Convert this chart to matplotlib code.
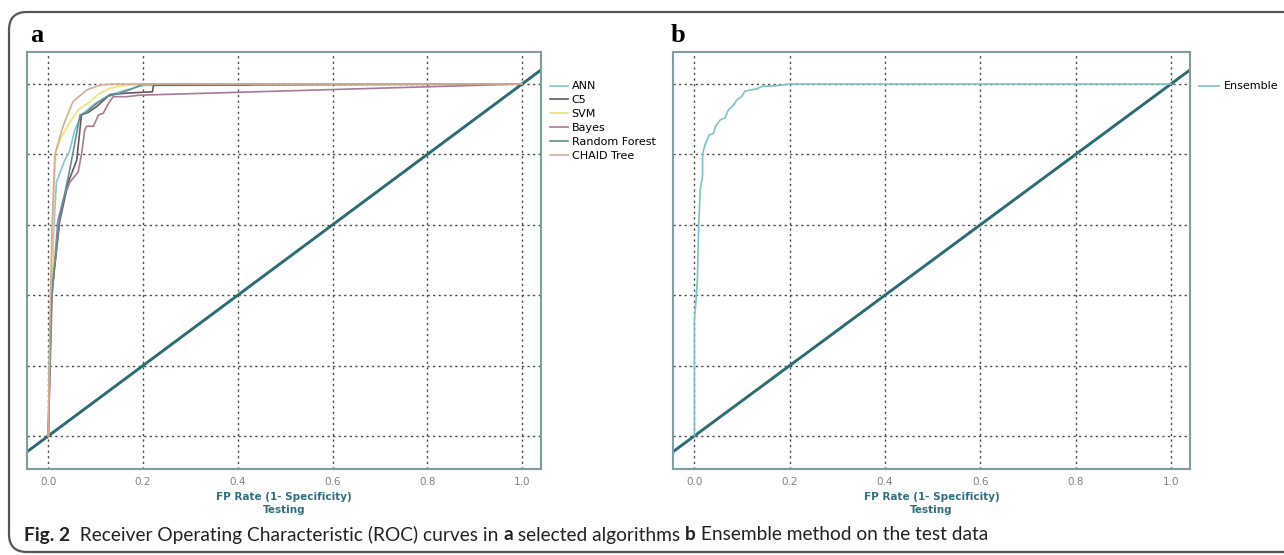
import numpy as np
import matplotlib.pyplot as plt
from matplotlib.patches import FancyBboxPatch

# ROC curves (FP rate, TP rate)
ann_fpr = [0, 0.002, 0.006, 0.012, 0.017, 0.024, 0.035, 0.045, 0.056, 0.07, 0.095, 0.123, 0.151, 0.193, 0.2, 0.425, 0.43, 1.0]
ann_tpr = [0, 0.2, 0.4, 0.6, 0.72, 0.746, 0.784, 0.81, 0.87, 0.912, 0.941, 0.964, 0.978, 0.994, 0.996, 0.997, 1.0, 1.0]

c5_fpr = [0, 0.003, 0.007, 0.015, 0.024, 0.042, 0.06, 0.07, 0.085, 0.102, 0.13, 0.165, 0.22, 0.222, 1.0]
c5_tpr = [0, 0.2, 0.4, 0.5, 0.61, 0.72, 0.784, 0.912, 0.92, 0.936, 0.97, 0.974, 0.978, 0.997, 1.0]

svm_fpr = [0, 0.004, 0.008, 0.012, 0.016, 0.028, 0.045, 0.063, 0.088, 0.109, 0.13, 0.151, 0.2, 1.0]
svm_tpr = [0, 0.3, 0.5, 0.7, 0.81, 0.85, 0.89, 0.926, 0.95, 0.974, 0.988, 0.994, 1.0, 1.0]

bayes_fpr = [0, 0.004, 0.008, 0.02, 0.031, 0.045, 0.063, 0.07, 0.077, 0.081, 0.095, 0.106, 0.116, 0.127, 0.137, 0.165, 0.19, 0.21, 1.0]
bayes_tpr = [0, 0.2, 0.4, 0.61, 0.67, 0.72, 0.75, 0.8, 0.87, 0.88, 0.88, 0.912, 0.917, 0.945, 0.964, 0.964, 0.968, 0.969, 1.0]

rf_fpr = [0, 0.003, 0.007, 0.024, 0.045, 0.067, 0.081, 0.102, 0.123, 0.151, 0.18, 0.2, 1.0]
rf_tpr = [0, 0.2, 0.4, 0.62, 0.755, 0.912, 0.92, 0.945, 0.964, 0.974, 0.988, 1.0, 1.0]

chaid_fpr = [0, 0.003, 0.008, 0.014, 0.031, 0.052, 0.081, 0.109, 0.137, 1.0]
chaid_tpr = [0, 0.3, 0.6, 0.8, 0.88, 0.95, 0.983, 0.997, 1.0, 1.0]

ens_fpr = [0, 0.0, 0.003, 0.006, 0.009, 0.012, 0.017, 0.017, 0.022, 0.031, 0.04, 0.044, 0.054, 0.064, 0.071, 0.082,
           0.089, 0.099, 0.106, 0.13, 0.141, 0.169, 0.183, 0.2, 1.0]
ens_tpr = [0, 0.33, 0.38, 0.44, 0.6, 0.7, 0.74, 0.8, 0.827, 0.855, 0.86, 0.879, 0.898, 0.903, 0.926, 0.94,
           0.955, 0.964, 0.98, 0.986, 0.993, 0.995, 0.997, 1.0, 1.0]

models = ['ANN', 'C5', 'SVM', 'Bayes', 'Random Forest', 'CHAID Tree']
fprs = [ann_fpr, c5_fpr, svm_fpr, bayes_fpr, rf_fpr, chaid_fpr]
tprs = [ann_tpr, c5_tpr, svm_tpr, bayes_tpr, rf_tpr, chaid_tpr]
colors = ['#86c6d2', '#6b5660', '#eee27a', '#a77b95', '#5e9098', '#d8ac92']

xticks = [0.0, 0.2, 0.4, 0.6, 0.8, 1.0]
yticks = [0.0, 0.2, 0.4, 0.6, 0.8, 1.0]

W, H = 1284, 555
fig = plt.figure(figsize=(W / 100, H / 100), dpi=100)

# outer rounded frame, runs off the right edge
frame = FancyBboxPatch((9 / W, 3 / H), 1.2, (552 - 12) / H, boxstyle='round,pad=0,rounding_size=0.014',
                       transform=fig.transFigure, fill=False, edgecolor='#555555', lw=1.6, mutation_aspect=W / H)
fig.patches.append(frame)


def px_axes(x0, x1, y0, y1):
    return fig.add_axes([x0 / W, 1 - y1 / H, (x1 - x0) / W, (y1 - y0) / H])


def style(ax):
    ax.set_xlim(-0.045, 1.04)
    ax.set_ylim(-0.094, 1.091)
    ax.set_xticks(xticks)
    ax.set_xticklabels(['%.1f' % t for t in xticks])
    ax.set_yticks(yticks)
    ax.set_yticklabels([])
    ax.tick_params(length=0, labelsize=7.5, labelcolor='#808080', pad=6)
    ax.grid(True, linestyle=(0, (1.6, 2.4)), color='#4a4a4a', lw=1.0)
    for s in ax.spines.values():
        s.set_color('#7f9ea2')
        s.set_linewidth(1.5)
    ax.set_xlabel('FP Rate (1- Specificity)\nTesting', fontsize=7.5, fontweight='bold',
                  color='#2f6f80', labelpad=3, linespacing=1.45)
    d = np.array([-0.1, 1.2])
    ax.plot(d, d, color='#2b6b74', lw=2.1, zorder=2)


ax1 = px_axes(27, 541, 52, 469)
style(ax1)
for f, t, c, m in zip(fprs, tprs, colors, models):
    ax1.plot(f, t, color=c, lw=1.2, label=m, zorder=3)
h, l = ax1.get_legend_handles_labels()
ax1.legend(h, l, loc='upper left', bbox_to_anchor=(546 / W, 1 - 77 / H), bbox_transform=fig.transFigure,
           frameon=False, fontsize=8, handlelength=1.6, handletextpad=0.3, labelspacing=0.35, borderaxespad=0)

ax2 = px_axes(673, 1190, 52, 469)
style(ax2)
ax2.plot(ens_fpr, ens_tpr, color='#7cc3c9', lw=1.2, label='Ensemble', zorder=3)
ax2.legend(loc='upper left', bbox_to_anchor=(1195 / W, 1 - 77 / H), bbox_transform=fig.transFigure,
           frameon=False, fontsize=8, handlelength=1.8, handletextpad=0.4, borderaxespad=0)

fig.text(30 / W, 1 - 36 / H, 'a', fontsize=19, fontweight='bold', family='Liberation Serif', va='center')
fig.text(671 / W, 1 - 36 / H, 'b', fontsize=19, fontweight='bold', family='Liberation Serif', va='center')

# caption built from bold / regular pieces
pieces = [('Fig. 2', 'bold'), ('  Receiver Operating Characteristic (ROC) curves in ', 'normal'), ('a', 'bold'),
          (' selected algorithms ', 'normal'), ('b', 'bold'), (' Ensemble method on the test data', 'normal')]
r = fig.canvas.get_renderer()
x = 24
for txt, wt in pieces:
    t = fig.text(x / W, 1 - 535 / H, txt, fontsize=13.8, fontweight=wt, family='Lato', va='center',
                 color='#222222')
    x += t.get_window_extent(r).width

fig.savefig('out.png', dpi=100)
